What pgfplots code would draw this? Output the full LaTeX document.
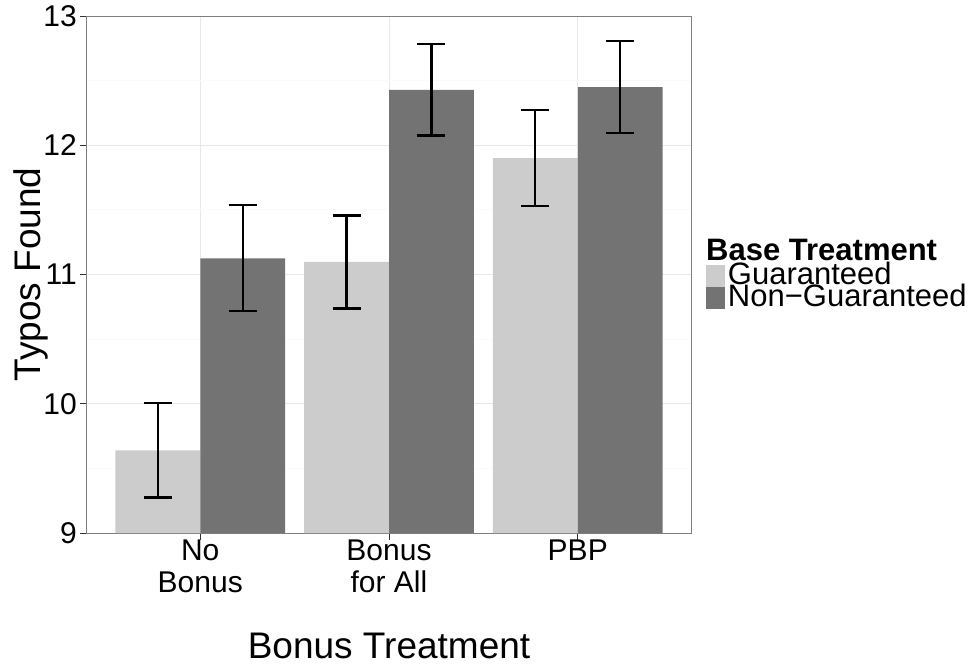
\documentclass[border=0pt]{standalone}
\usepackage{fontspec}
\setmainfont{Liberation Sans}
\usepackage{pgfplots}
\usepackage{pgfplotstable}
\pgfplotsset{compat=1.18}
\definecolor{gLight}{HTML}{CCCCCC}
\definecolor{gDark}{HTML}{737373}
\definecolor{gridMaj}{HTML}{E8E8E8}
\definecolor{gridMin}{HTML}{FAFAFA}
\definecolor{frameC}{HTML}{7F7F7F}
\definecolor{tickC}{HTML}{333333}

\pgfplotstableread{
x y e
1 9.640 0.365
2 11.097 0.360
3 11.900 0.370
}\guar
\pgfplotstableread{
x y e
1 11.125 0.410
2 12.428 0.353
3 12.450 0.357
}\nonguar

\begin{document}
\begin{tikzpicture}
\path[use as bounding box] (-87pt,-132pt) rectangle (882pt,533pt);
\begin{axis}[
  name=ax,
  at={(0pt,0pt)}, anchor=south west,
  scale only axis, width=604pt, height=517pt,
  xmin=0.4, xmax=3.6, ymin=9, ymax=13,
  xtick={1,2,3},
  xticklabels={No\\Bonus, Bonus\\for All, PBP},
  ytick={9,10,11,12,13},
  minor ytick={9.5,10.5,11.5,12.5},
  xmajorgrids, ymajorgrids, yminorgrids,
  major grid style={draw=gridMaj, line width=1pt},
  minor grid style={draw=gridMin, line width=1pt},
  axis line style={draw=frameC, line width=1pt},
  tick align=outside, major tick length=7pt, minor tick length=0pt,
  every tick/.style={draw=tickC, line width=1pt},
  xtick pos=left, ytick pos=left,
  /pgf/number format/assume math mode=true,
  ticklabel style={font=\fontsize{30}{32}\selectfont, text=black},
  xticklabel style={align=center, inner sep=0pt},
  yticklabel style={inner sep=0pt, xshift=-3pt},
  xlabel={Bonus Treatment}, ylabel={Typos Found},
  label style={font=\fontsize{37}{40}\selectfont},
  xlabel style={at={(axis description cs:0.5,-0.2437)}, anchor=base, text depth=0pt},
  ylabel style={at={(axis description cs:-0.0778,0.5)}, anchor=base},
  ybar, bar width=0.45,
  legend cell align=left,
  legend style={at={(axis description cs:1.0248,0.5184)}, anchor=north west,
    draw=none, fill=none, inner sep=0pt, outer sep=0pt,
    row sep=0pt, column sep=3pt,
    font=\fontsize{31}{33}\selectfont,
    nodes={inner sep=0pt, text height=16pt, text depth=2pt}},
  error bars/y dir=both, error bars/y explicit,
  error bars/error mark=|,
  error bars/error bar style={line width=2.2pt, black},
  error bars/error mark options={line width=2.2pt, mark size=14pt, black},
]
\addplot[fill=gLight, draw=none, bar shift=-0.225,
  legend image code/.code={\fill[gLight] (0pt,-9pt) rectangle (19pt,13pt);}]
  table[x=x, y=y, y error=e] {\guar};
\addlegendentry{Guaranteed}
\addplot[fill=gDark, draw=none, bar shift=0.225,
  legend image code/.code={\fill[gDark] (0pt,-9pt) rectangle (19pt,13pt);}]
  table[x=x, y=y, y error=e] {\nonguar};
\addlegendentry{Non−Guaranteed}
\end{axis}
\node[anchor=base west, inner sep=0pt, font=\bfseries\fontsize{31}{33}\selectfont]
  at ([xshift=619pt, yshift=273pt]ax.south west) {Base Treatment};
\end{tikzpicture}
\end{document}
